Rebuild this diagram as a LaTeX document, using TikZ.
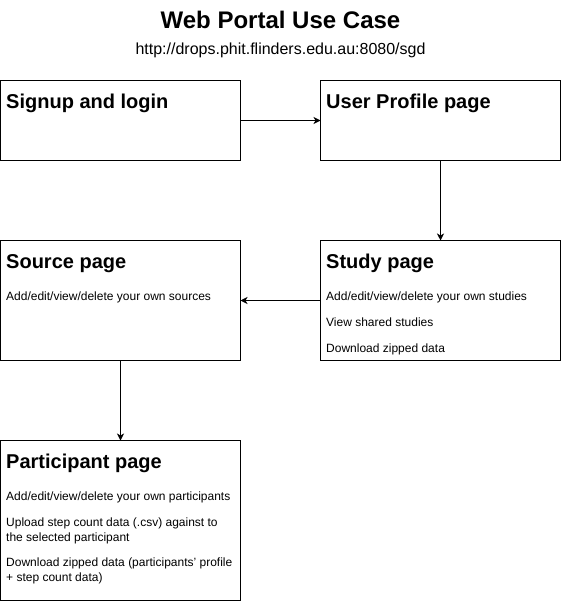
\documentclass[tikz,border=0pt]{standalone}
\usepackage{fontspec}
\setmainfont{Liberation Sans}
\usetikzlibrary{arrows.meta}
\begin{document}
\begin{tikzpicture}[x=1pt,y=-1pt,
  page/.style={draw=black,line width=1pt,minimum width=240pt,minimum height=#1,
    anchor=north west,inner sep=0pt,outer sep=0pt},
  page/.default=80pt,
  heading/.style={anchor=base west,inner sep=0pt,font=\fontsize{20}{24}\selectfont\bfseries},
  item/.style={anchor=base west,inner sep=0pt,align=left,
    font=\fontsize{12}{14.4}\selectfont},
  link/.style={draw=black,line width=1pt,-{Stealth[length=7pt,width=7pt,inset=2pt]}}]
\useasboundingbox (0,0) rectangle (561,601);

% title block
\node[anchor=base,inner sep=0pt,font=\fontsize{24}{28}\selectfont\bfseries] (title) at (280.5,28.5) {Web Portal Use Case};
\node[anchor=base,inner sep=0pt,font=\fontsize{16}{19}\selectfont] (url) at (280.5,54.5) {http://drops.phit.flinders.edu.au:8080/sgd};

% page boxes
\node[page] (signup) at (0.5,80.5) {};
\node[page] (profile) at (320.5,80.5) {};
\node[page=120pt] (source) at (0.5,240.5) {};
\node[page=120pt] (study) at (320.5,240.5) {};
\node[page=160pt] (participant) at (0.5,440.5) {};

% box contents (multi-line items are placed by their last baseline)
\node[heading] (signupT) at (6,108.3) {Signup and login};
\node[heading] (profileT) at (326,108.3) {User Profile page};

\node[heading] (sourceT) at (6,268.3) {Source page};
\node[item] (source1) at (6,300) {Add/edit/view/delete your own sources};

\node[heading] (studyT) at (326,268.3) {Study page};
\node[item] (study1) at (326,300) {Add/edit/view/delete your own studies};
\node[item] (study2) at (326,326.7) {View shared studies};
\node[item] (study3) at (326,352.7) {Download zipped data};

\node[heading] (partT) at (6,468.3) {Participant page};
\node[item] (part1) at (6,500) {Add/edit/view/delete your own participants};
\node[item] (part2) at (6,541.1) {Upload step count data (.csv) against to\\the selected participant};
\node[item] (part3) at (6,581.1) {Download zipped data (participants' profile\\+ step count data)};

% flow between pages
\draw[link] (signup.east) -- (profile.west);
\draw[link] (profile.south) -- (study.north);
\draw[link] (study.west) -- (source.east);
\draw[link] (source.south) -- (participant.north);
\end{tikzpicture}
\end{document}
